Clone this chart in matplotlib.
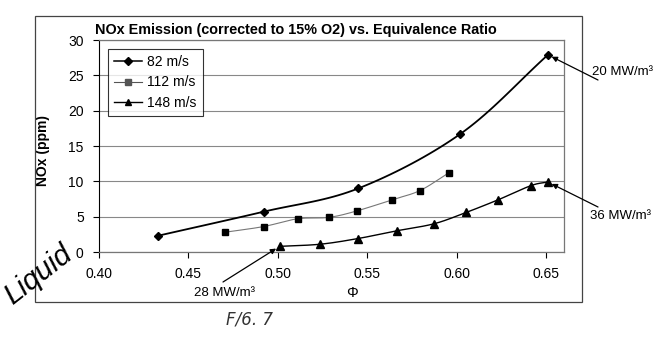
import numpy as np
import matplotlib
matplotlib.use('Agg')
import matplotlib.pyplot as plt
from matplotlib.patches import Rectangle, ConnectionPatch

plt.rcParams['font.family'] = ['Liberation Sans', 'DejaVu Sans']

# data
phi_82 = [0.433, 0.492, 0.545, 0.602, 0.651]
nox_82 = [2.3, 5.7, 9.0, 16.7, 27.9]

phi_112 = [0.4705, 0.492, 0.511, 0.5285, 0.544, 0.564, 0.5795, 0.5956]
nox_112 = [2.8, 3.6, 4.7, 4.9, 5.8, 7.4, 8.7, 11.2]

phi_148 = [0.501, 0.5236, 0.5447, 0.5665, 0.5874, 0.6053, 0.6233, 0.6416, 0.651]
nox_148 = [0.8, 1.1, 1.9, 3.0, 4.0, 5.6, 7.4, 9.4, 9.9]

xticks = [0.40, 0.45, 0.50, 0.55, 0.60, 0.65]
yticks = [0, 5, 10, 15, 20, 25, 30]


def smooth(x, y, n=20):
    # catmull-rom through the points, like the excel smoothed line
    x = np.asarray(x, float)
    y = np.asarray(y, float)
    px = np.concatenate([[2*x[0]-x[1]], x, [2*x[-1]-x[-2]]])
    py = np.concatenate([[2*y[0]-y[1]], y, [2*y[-1]-y[-2]]])
    t = np.linspace(0, 1, n)
    ox, oy = [], []
    for i in range(1, len(px) - 2):
        for p, o in ((px, ox), (py, oy)):
            p0, p1, p2, p3 = p[i-1], p[i], p[i+1], p[i+2]
            o.extend(0.5*((2*p1) + (-p0+p2)*t + (2*p0-5*p1+4*p2-p3)*t**2
                          + (-p0+3*p1-3*p2+p3)*t**3))
    return np.array(ox), np.array(oy)


def figpt(x, y):
    # pixel position in the 667x339 picture -> figure fraction
    return (x / 667, 1 - y / 339)


fig = plt.figure(figsize=(6.67, 3.39), dpi=100)
fig.patches.append(Rectangle(figpt(35, 302), 547/667, 286/339,
                             transform=fig.transFigure, fill=False,
                             edgecolor='#444444', lw=0.9))
ax = fig.add_axes([99/667, 1-252/339, 465/667, 212/339])

sx, sy = smooth(phi_82, nox_82)
ax.plot(sx, sy, color='black', lw=1.3)
ax.plot(phi_82, nox_82, ls='none', marker='D', ms=4.5, color='black')
sx, sy = smooth(phi_112, nox_112)
ax.plot(sx, sy, color='#777777', lw=0.8)
ax.plot(phi_112, nox_112, ls='none', marker='s', ms=4.5, color='black')
sx, sy = smooth(phi_148, nox_148)
ax.plot(sx, sy, color='black', lw=1.0)
ax.plot(phi_148, nox_148, ls='none', marker='^', ms=6, color='black')

# legend proxies
h1, = ax.plot([], [], color='black', lw=1.1, marker='D', ms=4)
h2, = ax.plot([], [], color='#555555', lw=0.8, marker='s', ms=4)
h3, = ax.plot([], [], color='black', lw=1.0, marker='^', ms=5)
leg = ax.legend([h1, h2, h3], ['82 m/s', '112 m/s', '148 m/s'],
                loc='upper left', bbox_to_anchor=(0.019, 0.958), fontsize=10,
                frameon=True, fancybox=False, handlelength=2.0,
                borderpad=0.45, labelspacing=0.45, handletextpad=0.4,
                borderaxespad=0)
leg.get_frame().set_edgecolor('black')
leg.get_frame().set_linewidth(0.8)

ax.set_xlim(0.40, 0.66)
ax.set_ylim(0, 30)
ax.set_xticks(xticks)
ax.set_xticklabels(['%.2f' % v for v in xticks])
ax.set_yticks(yticks)
ax.tick_params(labelsize=10, direction='out', length=4, width=0.8, pad=7)
ax.grid(axis='y', color='#888888', lw=0.8)
ax.set_axisbelow(True)
for s in ['top', 'right', 'bottom']:
    ax.spines[s].set_color('#777777')
    ax.spines[s].set_linewidth(0.9)
ax.spines['left'].set_color('black')

ax.set_title('NOx Emission (corrected to 15% O2) vs. Equivalence Ratio',
             fontsize=10.4, fontweight='bold', x=0.423, pad=4)
ax.set_ylabel('NOx (ppm)', fontsize=10, fontweight='bold')
ax.yaxis.set_label_coords(-0.106, 0.48)
ax.set_xlabel('Φ', fontsize=10.5)
ax.xaxis.set_label_coords(0.545, -0.16)

# callouts: text plus an arrow from beside the text to the end point
callouts = [
    ('20 MW/m³', (592, 72), 'left', (598, 80), (phi_82[-1], nox_82[-1])),
    ('36 MW/m³', (590, 216), 'left', (598, 207), (phi_148[-1], nox_148[-1])),
    ('28 MW/m³', (224, 293), 'center', (223, 282), (phi_148[0], nox_148[0])),
]
for label, tpos, ha, start, end in callouts:
    fig.text(*figpt(*tpos), label, fontsize=9.5, ha=ha, va='center')
    con = ConnectionPatch(xyA=figpt(*start), coordsA=fig.transFigure,
                          xyB=end, coordsB=ax.transData,
                          arrowstyle='-|>', color='black', lw=0.9,
                          mutation_scale=8, shrinkA=0, shrinkB=3,
                          zorder=5, clip_on=False)
    fig.add_artist(con)

fig.text(*figpt(38, 275), 'Liquid', fontsize=21, style='italic',
         rotation=38, ha='center', va='center')
fig.text(*figpt(250, 319), 'F/6. 7', fontsize=12, style='italic',
         fontweight='light', ha='center', va='center', color='#333333',
         family='DejaVu Sans')

fig.savefig('out.png', dpi=100)
